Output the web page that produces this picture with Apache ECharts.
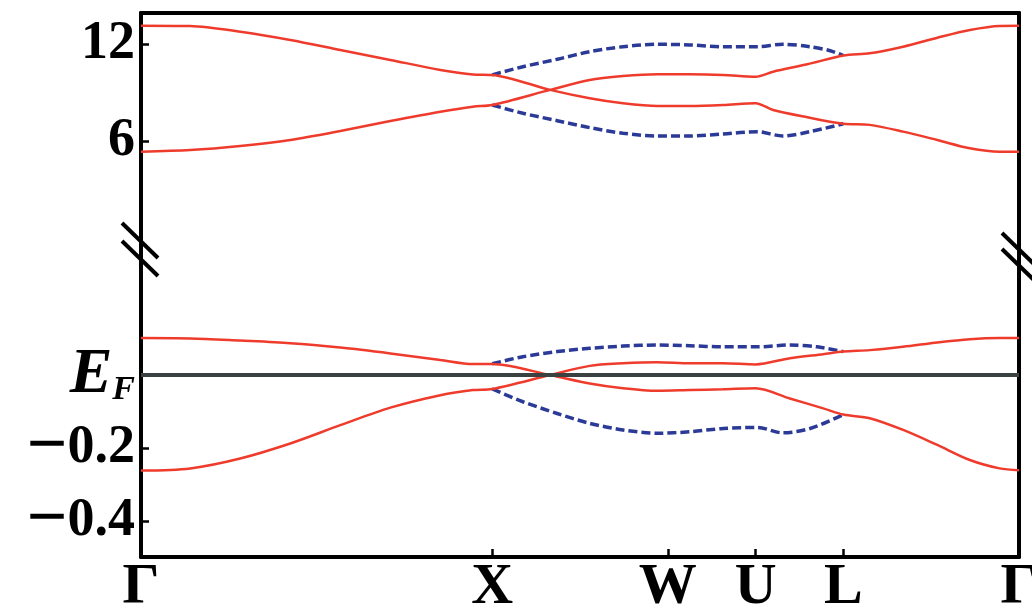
<!DOCTYPE html>
<html>
<head>
<meta charset="utf-8">
<script src="https://cdn.jsdelivr.net/npm/echarts@6/dist/echarts.min.js"></script>
<style>
  html, body { margin: 0; padding: 0; background: #fff; }
  #chart { width: 1032px; height: 613px; }
</style>
</head>
<body>
<div id="chart"></div>
<script>
// k-path positions of the high-symmetry points and their labels
const kTicks = [0, 40, 60, 70, 80, 100]
const kLabels = ['Γ', 'X', 'W', 'U', 'L', 'Γ']

// tick values on the two energy panels
const upperTicks = [6, 12]
const lowerTicks = [-0.4, -0.2, 0]

// upper panel (high energy) bands, [k, E]
const upperRedA = [[0, 13.15], [5.6, 13.13], [11.3, 12.78], [17.0, 12.27], [22.7, 11.65], [28.4, 11.03], [34.1, 10.41], [37.8, 10.13], [40, 10.1],
  [46.6, 9.17], [51.1, 8.65], [54.9, 8.34], [58.8, 8.17], [62.5, 8.17], [66.3, 8.23], [70, 8.34], [72.0, 7.92], [75.9, 7.47], [80, 7.07],
  [83.0, 7.0], [86.8, 6.58], [90.7, 6.06], [94.4, 5.55], [97.8, 5.34], [100, 5.34]]
const upperRedB = [[0, 5.34], [5.6, 5.44], [11.3, 5.69], [17.0, 6.06], [22.7, 6.62], [28.4, 7.24], [34.1, 7.82], [37.8, 8.13], [40, 8.23],
  [46.6, 9.17], [51.1, 9.79], [54.9, 10.03], [58.8, 10.14], [62.5, 10.14], [66.3, 10.10], [70, 9.99], [72.0, 10.30], [75.9, 10.76], [80, 11.3],
  [83.0, 11.44], [86.8, 11.85], [90.7, 12.41], [94.4, 12.89], [97.8, 13.14], [100, 13.15]]
const upperBlueTop = [[40, 10.1], [43.5, 10.61], [47.4, 11.07], [51.1, 11.54], [54.9, 11.85], [58.8, 12.0], [62.5, 11.96], [66.3, 11.85],
  [70.2, 11.85], [73.1, 12.0], [76.2, 11.85], [78.5, 11.6], [80, 11.3]]
const upperBlueBot = [[40, 8.23], [43.5, 7.72], [47.4, 7.26], [51.1, 6.83], [54.9, 6.48], [58.8, 6.31], [62.5, 6.31], [66.3, 6.44],
  [70.2, 6.58], [73.1, 6.31], [76.2, 6.58], [80, 7.07]]

// lower panel (near E_F) bands, [k, E]
const lowerRedC = [[0, 0.101], [5.6, 0.100], [11.3, 0.094], [17.0, 0.087], [22.7, 0.075], [28.4, 0.059], [34.1, 0.041], [37.8, 0.030], [40, 0.030],
  [46.6, 0], [51.1, -0.023], [54.9, -0.036], [58.8, -0.043], [62.5, -0.041], [66.3, -0.039], [70, -0.036], [73.9, -0.064], [77.7, -0.091], [80, -0.108],
  [83.0, -0.118], [86.8, -0.150], [90.7, -0.191], [94.4, -0.232], [97.8, -0.255], [100, -0.260]]
const lowerRedD = [[0, -0.261], [5.6, -0.255], [11.3, -0.228], [17.0, -0.187], [22.7, -0.137], [28.4, -0.089], [34.1, -0.055], [37.8, -0.041], [40, -0.038],
  [46.6, 0], [51.1, 0.025], [54.9, 0.032], [58.8, 0.035], [62.5, 0.032], [66.3, 0.032], [70, 0.029], [73.9, 0.046], [77.7, 0.057], [80, 0.064],
  [83.0, 0.068], [86.8, 0.077], [90.7, 0.089], [94.4, 0.098], [97.8, 0.101], [100, 0.101]]
const lowerBlueTop = [[40, 0.031], [43.5, 0.050], [47.4, 0.064], [51.1, 0.073], [54.9, 0.079], [58.8, 0.082], [62.5, 0.080], [66.3, 0.077],
  [70.2, 0.077], [73.9, 0.082], [77.0, 0.077], [80, 0.064]]
const lowerBlueBot = [[40, -0.038], [43.5, -0.073], [47.4, -0.105], [51.1, -0.132], [54.9, -0.150], [58.8, -0.159], [62.5, -0.155], [66.3, -0.146],
  [70.2, -0.143], [73.1, -0.158], [76.2, -0.146], [80, -0.108]]

const serif = "'Liberation Serif', 'Times New Roman', serif"
const red = '#ef3b2c'
const blue = '#2b3a96'
const frame = { show: true, onZero: false, lineStyle: { color: '#000', width: 4 } }

function redLine(data, grid) {
  return {
    type: 'line', data: data, xAxisIndex: grid, yAxisIndex: grid * 2,
    showSymbol: false, smooth: 0.3, z: 3,
    lineStyle: { color: red, width: 2.5 },
  }
}
function blueLine(data, grid) {
  return {
    type: 'line', data: data, xAxisIndex: grid, yAxisIndex: grid * 2,
    showSymbol: false, smooth: 0.3, z: 2,
    lineStyle: { color: blue, width: 3.5, type: [9, 4] },
  }
}

const option = {
  animation: false,
  grid: [
    { left: 141, right: 13, top: 13, height: 239, outerBoundsMode: 'none' },
    { left: 141, right: 13, top: 252, bottom: 56, outerBoundsMode: 'none' },
  ],
  xAxis: [
    {
      type: 'value', gridIndex: 0, min: 0, max: 100, position: 'top',
      axisLine: frame, axisTick: { show: false }, axisLabel: { show: false }, splitLine: { show: false },
    },
    {
      type: 'value', gridIndex: 1, min: 0, max: 100, position: 'bottom',
      axisLine: frame,
      axisTick: { inside: true, length: 8, customValues: kTicks.slice(1, -1), lineStyle: { color: '#000', width: 2.5 } },
      axisLabel: {
        customValues: kTicks, margin: 2, hideOverlap: false,
        formatter: (v) => kLabels[kTicks.indexOf(v)],
        color: '#000', fontFamily: serif, fontWeight: 'bold', fontSize: 58,
      },
      splitLine: { show: false },
    },
  ],
  yAxis: [
    {
      type: 'value', gridIndex: 0, min: -0.885, max: 13.94, position: 'left',
      axisLine: frame,
      axisTick: { inside: true, length: 8, customValues: upperTicks, lineStyle: { color: '#000', width: 2.5 } },
      axisLabel: {
        customValues: upperTicks, margin: 6,
        color: '#000', fontFamily: serif, fontWeight: 'bold', fontSize: 54,
      },
      splitLine: { show: false },
    },
    {
      type: 'value', gridIndex: 0, min: -0.885, max: 13.94, position: 'right',
      axisLine: frame, axisTick: { show: false }, axisLabel: { show: false }, splitLine: { show: false },
    },
    {
      type: 'value', gridIndex: 1, min: -0.497, max: 0.336, position: 'left',
      axisLine: frame,
      axisTick: { inside: true, length: 8, customValues: lowerTicks, lineStyle: { color: '#000', width: 2.5 } },
      axisLabel: {
        customValues: lowerTicks, margin: 6,
        formatter: (v) => (v === 0 ? '{e|E}{f|F}' : '{m|−}' + Math.abs(v).toFixed(1)),
        color: '#000', fontFamily: serif, fontWeight: 'bold', fontSize: 54,
        rich: {
          e: { fontFamily: serif, fontWeight: 'bold', fontStyle: 'italic', fontSize: 64, color: '#000' },
          f: { fontFamily: serif, fontWeight: 'bold', fontStyle: 'italic', fontSize: 34, color: '#000', padding: [30, 0, 0, 0] },
          m: { fontFamily: serif, fontWeight: 'bold', fontSize: 72, color: '#000' },
        },
      },
      splitLine: { show: false },
    },
    {
      type: 'value', gridIndex: 1, min: -0.497, max: 0.336, position: 'right',
      axisLine: frame, axisTick: { show: false }, axisLabel: { show: false }, splitLine: { show: false },
    },
  ],
  series: [
    // Fermi level
    {
      type: 'line', data: [], xAxisIndex: 1, yAxisIndex: 2, z: 1,
      markLine: {
        silent: true, symbol: 'none', label: { show: false },
        lineStyle: { color: '#3a4141', width: 4, type: 'solid' },
        data: [{ yAxis: 0 }],
      },
    },
    blueLine(upperBlueTop, 0),
    blueLine(upperBlueBot, 0),
    redLine(upperRedA, 0),
    redLine(upperRedB, 0),
    blueLine(lowerBlueTop, 1),
    blueLine(lowerBlueBot, 1),
    redLine(lowerRedC, 1),
    redLine(lowerRedD, 1),
  ],
  // axis break marks
  graphic: [
    { type: 'line', shape: { x1: 122, y1: 223, x2: 158, y2: 258 }, style: { stroke: '#000', lineWidth: 4 }, z: 10 },
    { type: 'line', shape: { x1: 122, y1: 241, x2: 158, y2: 276 }, style: { stroke: '#000', lineWidth: 4 }, z: 10 },
    { type: 'line', shape: { x1: 1002, y1: 233, x2: 1036, y2: 266 }, style: { stroke: '#000', lineWidth: 4 }, z: 10 },
    { type: 'line', shape: { x1: 1002, y1: 249, x2: 1036, y2: 282 }, style: { stroke: '#000', lineWidth: 4 }, z: 10 },
  ],
}

const myChart = echarts.init(document.getElementById('chart'))
myChart.setOption(option)
</script>
</body>
</html>
